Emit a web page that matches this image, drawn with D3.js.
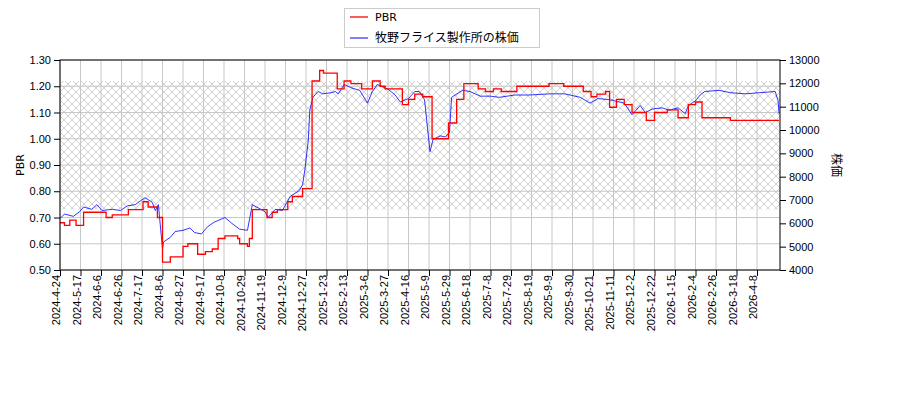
<!DOCTYPE html>
<html><head><meta charset="utf-8">
<script src="https://cdn.jsdelivr.net/npm/d3@7"></script>
<style>body{margin:0;background:#fff}svg{font-family:"DejaVu Sans",sans-serif}</style>
</head><body><svg id="c" width="900" height="400"></svg>
<script>
const tickLabels=["2024-4-24","2024-5-17","2024-6-6","2024-6-26","2024-7-17","2024-8-6","2024-8-27","2024-9-17","2024-10-8","2024-10-29","2024-11-19","2024-12-9","2024-12-27","2025-1-23","2025-2-13","2025-3-6","2025-3-27","2025-4-16","2025-5-9","2025-5-29","2025-6-18","2025-7-8","2025-7-29","2025-8-19","2025-9-9","2025-9-30","2025-10-21","2025-11-11","2025-12-2","2025-12-22","2026-1-15","2026-2-4","2026-2-26","2026-3-18","2026-4-8"];
const endDate="2026-5-2";
const pbrTicks=[0.5,0.6,0.7,0.8,0.9,1.0,1.1,1.2,1.3];
const priceTicks=[4000,5000,6000,7000,8000,9000,10000,11000,12000,13000];
const bandRange=[0.73,1.22];
const pbrData=[["2024-4-24",.68],["2024-4-29",.67],["2024-5-5",.69],["2024-5-12",.67],["2024-5-20",.72],["2024-6-11",.70],["2024-6-17",.71],["2024-7-3",.73],["2024-7-18",.76],["2024-7-23",.74],["2024-8-1",.70],["2024-8-6",.53],["2024-8-14",.55],["2024-8-27",.59],["2024-9-1",.60],["2024-9-11",.56],["2024-9-19",.57],["2024-9-26",.58],["2024-10-2",.62],["2024-10-9",.63],["2024-10-22",.62],["2024-10-24",.60],["2024-11-1",.59],["2024-11-3",.62],["2024-11-6",.73],["2024-11-21",.70],["2024-11-26",.72],["2024-12-1",.73],["2024-12-11",.76],["2024-12-15",.78],["2024-12-24",.81],["2025-1-4",1.22],["2025-1-14",1.26],["2025-1-19",1.25],["2025-2-3",1.19],["2025-2-10",1.22],["2025-2-17",1.21],["2025-2-28",1.19],["2025-3-11",1.22],["2025-3-19",1.20],["2025-3-24",1.19],["2025-4-10",1.13],["2025-4-16",1.15],["2025-4-23",1.17],["2025-5-2",1.16],["2025-5-12",1.00],["2025-5-28",1.06],["2025-6-5",1.15],["2025-6-12",1.21],["2025-6-26",1.19],["2025-7-3",1.18],["2025-7-11",1.19],["2025-7-19",1.18],["2025-8-4",1.20],["2025-9-6",1.21],["2025-9-21",1.20],["2025-10-11",1.18],["2025-10-19",1.16],["2025-10-25",1.17],["2025-11-3",1.18],["2025-11-7",1.12],["2025-11-14",1.15],["2025-11-22",1.13],["2025-11-30",1.10],["2025-12-14",1.07],["2025-12-22",1.10],["2026-1-6",1.11],["2026-1-18",1.08],["2026-1-28",1.13],["2026-2-4",1.14],["2026-2-11",1.08],["2026-3-12",1.07],["2026-5-1",1.07]];
const priceData=[["2024-4-24",6200],["2024-4-29",6400],["2024-5-9",6300],["2024-5-16",6500],["2024-5-20",6700],["2024-5-28",6600],["2024-6-2",6800],["2024-6-7",6550],["2024-6-17",6600],["2024-6-25",6550],["2024-7-2",6750],["2024-7-10",6800],["2024-7-15",6950],["2024-7-20",7100],["2024-7-27",6900],["2024-7-30",6550],["2024-8-2",6800],["2024-8-6",4900],["2024-8-7",5200],["2024-8-14",5400],["2024-8-19",5650],["2024-8-27",5700],["2024-9-3",5800],["2024-9-8",5600],["2024-9-15",5550],["2024-9-21",5850],["2024-9-28",6050],["2024-10-9",6250],["2024-10-16",6000],["2024-10-24",5750],["2024-11-1",5700],["2024-11-6",6800],["2024-11-19",6500],["2024-11-22",6250],["2024-11-29",6600],["2024-12-6",6550],["2024-12-13",7150],["2024-12-21",7400],["2024-12-24",7650],["2024-12-26",8300],["2024-12-30",9550],["2025-1-1",10850],["2025-1-5",11400],["2025-1-12",11650],["2025-1-18",11550],["2025-1-28",11600],["2025-2-1",11650],["2025-2-4",11550],["2025-2-10",11950],["2025-2-18",11800],["2025-2-26",11700],["2025-3-6",11150],["2025-3-11",11650],["2025-3-16",11950],["2025-3-27",11750],["2025-4-3",11500],["2025-4-8",11200],["2025-4-16",11350],["2025-4-23",11650],["2025-4-28",11650],["2025-5-4",11300],["2025-5-10",9070],["2025-5-13",9600],["2025-5-20",9750],["2025-5-25",9700],["2025-5-29",9900],["2025-5-31",11400],["2025-6-7",11600],["2025-6-11",11700],["2025-6-18",11650],["2025-6-28",11450],["2025-7-8",11450],["2025-7-17",11400],["2025-8-2",11500],["2025-8-17",11500],["2025-9-7",11550],["2025-9-22",11550],["2025-10-8",11400],["2025-10-18",11150],["2025-10-26",11350],["2025-11-7",11300],["2025-11-22",11150],["2025-11-30",10650],["2025-12-8",11050],["2025-12-13",10750],["2025-12-20",10900],["2025-12-31",10950],["2026-1-8",10850],["2026-1-18",10950],["2026-1-25",10700],["2026-1-28",11050],["2026-2-4",11250],["2026-2-9",11500],["2026-2-14",11650],["2026-3-1",11700],["2026-3-12",11600],["2026-3-27",11550],["2026-4-11",11600],["2026-4-27",11650],["2026-4-30",11250],["2026-5-1",10700]];

const P=d3.timeParse("%Y-%m-%d");
const L=60,R=780,T=60,B=270;
const svg=d3.select("#c");
const tickDates=tickLabels.map(P);
const dom=tickDates.concat([P(endDate)]);
const step=20.5;
const rng=dom.map((d,i)=>i<tickDates.length?L+i*step:R);
const x=d3.scaleTime().domain(dom).range(rng);
const y=d3.scaleLinear().domain([0.5,1.3]).range([B,T]);
const y2=d3.scaleLinear().domain([4000,13000]).range([B,T]);

const defs=svg.append("defs");
const pat=defs.append("pattern").attr("id","hx").attr("patternUnits","userSpaceOnUse").attr("width",8).attr("height",8);
pat.append("path").attr("d","M0,0L8,8M8,0L0,8").attr("stroke","#b4b4b4").attr("stroke-width",0.6);
defs.append("clipPath").attr("id","clp").append("rect").attr("x",L).attr("y",T).attr("width",R-L).attr("height",B-T);

svg.append("rect").attr("x",L).attr("width",R-L).attr("y",y(bandRange[1])).attr("height",y(bandRange[0])-y(bandRange[1])).attr("fill","url(#hx)");
const g=svg.append("g");
g.selectAll(".vg").data(tickDates).join("line").attr("x1",d=>x(d)).attr("x2",d=>x(d)).attr("y1",T).attr("y2",B).attr("stroke","#c8c8c8").attr("stroke-width",1);
g.selectAll(".hg").data(pbrTicks).join("line").attr("x1",L).attr("x2",R).attr("y1",d=>y(d)).attr("y2",d=>y(d)).attr("stroke","#c8c8c8").attr("stroke-width",1);

const pts=a=>a.map(d=>[P(d[0]),d[1]]);
svg.append("path").datum(pts(priceData)).attr("clip-path","url(#clp)").attr("fill","none").attr("stroke","#0000ff").attr("stroke-width",0.8)
 .attr("d",d3.line().x(d=>x(d[0])).y(d=>y2(d[1])));
svg.append("path").datum(pts(pbrData)).attr("clip-path","url(#clp)").attr("fill","none").attr("stroke","#ff0000").attr("stroke-width",1.3)
 .attr("d",d3.line().curve(d3.curveStepAfter).x(d=>x(d[0])).y(d=>y(d[1])));

svg.append("rect").attr("x",L).attr("y",T).attr("width",R-L).attr("height",B-T).attr("fill","none").attr("stroke","#000").attr("stroke-width",1);

const fs="11px";
const ax=svg.append("g").attr("transform",`translate(0,${B})`).call(d3.axisBottom(x).tickValues(tickDates).tickFormat((d,i)=>tickLabels[i]).tickSizeOuter(0));
ax.select(".domain").remove();
ax.selectAll("text").attr("transform","rotate(-90)").attr("text-anchor","end").attr("x",-5).attr("y",-4).attr("dy","0.35em").style("font-size",fs).attr("fill","#000");
const ay=svg.append("g").attr("transform",`translate(${L},0)`).call(d3.axisLeft(y).tickValues(pbrTicks).tickFormat(d3.format(".2f")).tickSizeOuter(0));
ay.select(".domain").remove(); ay.selectAll("text").style("font-size",fs);
const ay2=svg.append("g").attr("transform",`translate(${R},0)`).call(d3.axisRight(y2).tickValues(priceTicks).tickFormat(d=>d).tickSizeOuter(0));
ay2.select(".domain").remove(); ay2.selectAll("text").style("font-size",fs);

svg.append("text").attr("transform","translate(24,165) rotate(-90)").attr("text-anchor","middle").style("font-size","11px").text("PBR");
svg.append("text").attr("transform","translate(832,165) rotate(90)").attr("text-anchor","middle").style("font-size","12px").style("font-family","'Noto Sans CJK JP',sans-serif").text("株価");

const lg=svg.append("g");
lg.append("rect").attr("x",344.5).attr("y",8.5).attr("width",195).attr("height",39).attr("fill","#fff").attr("stroke","#ccc");
lg.append("line").attr("x1",350).attr("x2",368).attr("y1",17).attr("y2",17).attr("stroke","#ff0000").attr("stroke-width",1.3);
lg.append("line").attr("x1",350).attr("x2",368).attr("y1",38).attr("y2",38).attr("stroke","#0000ff").attr("stroke-width",1);
lg.append("text").attr("x",375).attr("y",21).style("font-size","11px").text("PBR");
lg.append("text").attr("x",375).attr("y",42).style("font-size","12px").style("font-family","'Noto Sans CJK JP',sans-serif").text("牧野フライス製作所の株価");
</script></body></html>
